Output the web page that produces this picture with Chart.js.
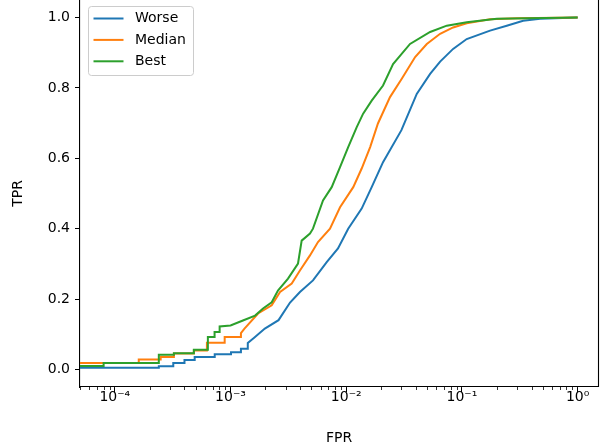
<!DOCTYPE html>
<html>
<head>
<meta charset="utf-8">
<script src="https://cdn.jsdelivr.net/npm/chart.js@4.4.0/dist/chart.umd.min.js"></script>
<style>
  html, body { margin: 0; padding: 0; background: #fff; }
</style>
</head>
<body>
<canvas id="grafico_roc" width="603" height="448"></canvas>
<script>
// curvas ROC (FPR, TPR)
const fpr_worse = [1e-5, 2.4e-4, 2.4e-4, 3.2e-4, 3.2e-4, 4.0e-4, 4.0e-4, 4.9e-4, 4.9e-4, 7.3e-4, 7.3e-4, 1.01e-3, 1.01e-3, 1.23e-3, 1.23e-3, 1.41e-3, 1.41e-3, 1.6e-3, 1.98e-3, 2.6e-3, 3.27e-3, 3.98e-3, 5.16e-3, 6.78e-3, 8.49e-3, 1.04e-2, 1.36e-2, 1.66e-2, 2.08e-2, 3.0e-2, 4.07e-2, 5.31e-2, 6.48e-2, 8.39e-2, 0.11, 0.175, 0.244, 0.338, 0.474, 1.0]
const tpr_worse = [0.005, 0.005, 0.009, 0.009, 0.018, 0.018, 0.027, 0.027, 0.035, 0.035, 0.043, 0.043, 0.049, 0.049, 0.059, 0.059, 0.075, 0.09, 0.116, 0.14, 0.19, 0.22, 0.253, 0.305, 0.344, 0.40, 0.457, 0.518, 0.589, 0.68, 0.783, 0.84, 0.875, 0.911, 0.939, 0.963, 0.977, 0.991, 0.997, 1.0]

const fpr_median = [1e-5, 1.61e-4, 1.61e-4, 2.49e-4, 2.49e-4, 3.24e-4, 3.24e-4, 4.82e-4, 4.82e-4, 6.25e-4, 6.25e-4, 8.9e-4, 8.9e-4, 1.23e-3, 1.23e-3, 1.32e-3, 1.73e-3, 2.27e-3, 2.68e-3, 3.38e-3, 3.98e-3, 4.86e-3, 5.70e-3, 7.24e-3, 8.84e-3, 1.15e-2, 1.36e-2, 1.61e-2, 1.88e-2, 2.39e-2, 3.02e-2, 3.94e-2, 4.97e-2, 6.48e-2, 8.39e-2, 0.11, 0.175, 0.3, 1.0]
const tpr_median = [0.018, 0.018, 0.028, 0.028, 0.035, 0.035, 0.045, 0.045, 0.054, 0.054, 0.076, 0.076, 0.092, 0.092, 0.103, 0.116, 0.159, 0.182, 0.22, 0.244, 0.281, 0.324, 0.362, 0.40, 0.461, 0.518, 0.571, 0.632, 0.699, 0.774, 0.826, 0.888, 0.925, 0.954, 0.972, 0.984, 0.995, 0.998, 1.0]

const fpr_best = [1e-5, 8.0e-5, 8.0e-5, 2.4e-4, 2.4e-4, 3.24e-4, 3.24e-4, 4.82e-4, 4.82e-4, 6.37e-4, 6.37e-4, 7.28e-4, 7.28e-4, 8.05e-4, 8.05e-4, 1.0e-3, 1.28e-3, 1.63e-3, 1.91e-3, 2.27e-3, 2.57e-3, 3.14e-3, 3.83e-3, 4.12e-3, 4.86e-3, 5.16e-3, 6.30e-3, 7.49e-3, 8.84e-3, 1.04e-2, 1.23e-2, 1.40e-2, 1.66e-2, 2.08e-2, 2.54e-2, 3.56e-2, 5.31e-2, 7.40e-2, 0.11, 0.2, 1.0]
const tpr_best = [0.010, 0.010, 0.018, 0.018, 0.042, 0.042, 0.046, 0.046, 0.056, 0.056, 0.092, 0.092, 0.106, 0.106, 0.122, 0.125, 0.139, 0.153, 0.173, 0.191, 0.224, 0.258, 0.301, 0.366, 0.386, 0.40, 0.48, 0.518, 0.575, 0.632, 0.688, 0.727, 0.764, 0.807, 0.868, 0.925, 0.959, 0.977, 0.987, 0.997, 1.0]

const nomes = ['Worse', 'Median', 'Best']
const cores = ['#1f77b4', '#ff7f0e', '#2ca02c']

const ticks_x = [1e-4, 1e-3, 1e-2, 1e-1, 1]
const rotulos_x = ['10⁻⁴', '10⁻³', '10⁻²', '10⁻¹', '10⁰']
const ticks_y = [0, 0.2, 0.4, 0.6, 0.8, 1.0]

const fonte = 'DejaVu Sans'

const juntar = (xs, ys) => xs.map((x, i) => ({ x: x, y: ys[i] }))

const series = [
  juntar(fpr_worse, tpr_worse),
  juntar(fpr_median, tpr_median),
  juntar(fpr_best, tpr_best)
]

// moldura direita + ticks menores do eixo log
const moldura_plugin = {
  id: 'moldura',
  afterDraw(chart) {
    const ctx = chart.ctx
    const area = chart.chartArea
    const sx = chart.scales.x
    ctx.save()
    ctx.strokeStyle = '#000'
    ctx.lineWidth = 1.1
    ctx.beginPath()
    ctx.moveTo(area.right + 0.5, area.top)
    ctx.lineTo(area.right + 0.5, area.bottom)
    ctx.stroke()

    ctx.lineWidth = 0.8
    for (let k = -5; k <= 0; k++) {
      for (let m = 2; m <= 9; m++) {
        const v = m * Math.pow(10, k)
        if (v < sx.min || v > sx.max) continue
        const px = Math.round(sx.getPixelForValue(v)) + 0.5
        ctx.beginPath()
        ctx.moveTo(px, area.bottom)
        ctx.lineTo(px, area.bottom + 3)
        ctx.stroke()
      }
    }
    ctx.restore()
  }
}

const legenda_plugin = {
  id: 'legenda',
  afterDraw(chart) {
    const ctx = chart.ctx
    const area = chart.chartArea
    const x0 = area.left + 8.5, y0 = area.top + 6.5, w = 105, h = 69
    ctx.save()
    ctx.fillStyle = 'rgba(255,255,255,0.8)'
    ctx.strokeStyle = '#cccccc'
    ctx.lineWidth = 1
    ctx.beginPath()
    ctx.roundRect(x0, y0, w, h, 3)
    ctx.fill()
    ctx.stroke()
    chart.data.datasets.forEach((ds, i) => {
      const y = y0 + 12 + i * 21.4
      ctx.strokeStyle = ds.borderColor
      ctx.lineWidth = 2
      ctx.beginPath()
      ctx.moveTo(x0 + 5, y)
      ctx.lineTo(x0 + 35, y)
      ctx.stroke()
      ctx.fillStyle = '#000'
      ctx.font = `14px "${fonte}"`
      ctx.textBaseline = 'middle'
      ctx.textAlign = 'left'
      ctx.fillText(ds.label, x0 + 46.5, y)
    })
    ctx.restore()
  }
}

const sem_padding = s => {
  s.paddingTop = 0
  s.paddingBottom = 0
  s.paddingLeft = 0
  s.paddingRight = 0
}

new Chart(document.getElementById('grafico_roc'), {
  type: 'line',
  data: {
    datasets: series.map((dados, i) => ({
      label: nomes[i],
      data: dados,
      borderColor: cores[i],
      backgroundColor: cores[i],
      borderWidth: 2,
      pointRadius: 0,
      tension: 0,
      fill: false,
      order: 3 - i
    }))
  },
  options: {
    responsive: false,
    animation: false,
    layout: { padding: { left: 0, right: 5, top: 0, bottom: 0 } },
    plugins: {
      legend: { display: false },
      tooltip: { enabled: false }
    },
    scales: {
      x: {
        type: 'logarithmic',
        bounds: 'data',
        min: 5e-5,
        max: 1.5,
        afterBuildTicks: s => { s.ticks = ticks_x.map(v => ({ value: v })) },
        afterFit: s => { s.height = 61; sem_padding(s) },
        ticks: {
          autoSkip: false,
          maxRotation: 0,
          color: '#000',
          padding: -3,
          font: { family: fonte, size: 14 },
          callback: (v, i) => rotulos_x[i]
        },
        grid: { drawOnChartArea: false, tickLength: 5, tickColor: '#000', tickWidth: 1 },
        border: { color: '#000', width: 1.1 },
        title: {
          display: true,
          text: 'FPR',
          color: '#000',
          font: { family: fonte, size: 14 },
          padding: { top: 0, bottom: 1 }
        }
      },
      y: {
        type: 'linear',
        bounds: 'data',
        min: -0.05,
        max: 1.05,
        afterBuildTicks: s => { s.ticks = ticks_y.map(v => ({ value: v })) },
        afterFit: s => { s.width = 80; sem_padding(s) },
        ticks: {
          color: '#000',
          padding: 5,
          font: { family: fonte, size: 14 },
          callback: v => v.toFixed(1)
        },
        grid: { drawOnChartArea: false, tickLength: 5, tickColor: '#000', tickWidth: 1 },
        border: { color: '#000', width: 1.1 },
        title: {
          display: true,
          text: 'TPR',
          color: '#000',
          font: { family: fonte, size: 14 },
          padding: { top: 10, bottom: 0 }
        }
      }
    }
  },
  plugins: [moldura_plugin, legenda_plugin]
})
</script>
</body>
</html>
